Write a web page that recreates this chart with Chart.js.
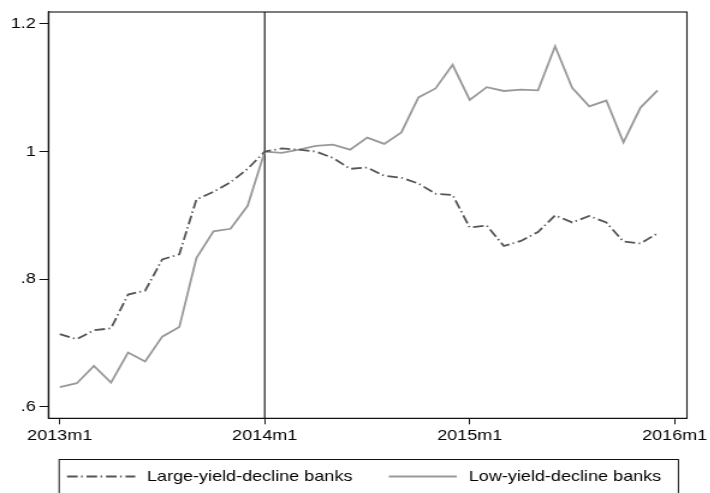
<!DOCTYPE html>
<html>
<head>
<meta charset="utf-8">
<script src="https://cdn.jsdelivr.net/npm/chart.js@4/dist/chart.umd.min.js"></script>
<style>
  html, body { margin: 0; padding: 0; background: #fff; overflow: hidden; }
  #wrap { position: absolute; left: 0; top: 0; width: 591.67px; height: 493px;
          transform: scaleX(1.2); transform-origin: 0 0; }
</style>
</head>
<body>
<div id="wrap"><canvas id="c"></canvas></div>
<script>
// ---- data (monthly, 2013m1 .. 2015m12), index 2014m1 = 1 ----
const months = [
  '2013m1','2013m2','2013m3','2013m4','2013m5','2013m6','2013m7','2013m8','2013m9','2013m10','2013m11','2013m12',
  '2014m1','2014m2','2014m3','2014m4','2014m5','2014m6','2014m7','2014m8','2014m9','2014m10','2014m11','2014m12',
  '2015m1','2015m2','2015m3','2015m4','2015m5','2015m6','2015m7','2015m8','2015m9','2015m10','2015m11','2015m12'
];
const largeYieldDecline = [
  0.714, 0.706, 0.720, 0.723, 0.776, 0.782, 0.831, 0.839, 0.925, 0.937, 0.952, 0.973,
  1.000, 1.005, 1.003, 1.000, 0.990, 0.973, 0.975, 0.962, 0.959, 0.950, 0.934, 0.932,
  0.881, 0.884, 0.852, 0.860, 0.874, 0.900, 0.889, 0.899, 0.889, 0.859, 0.856, 0.872
];
const lowYieldDecline = [
  0.631, 0.637, 0.664, 0.638, 0.685, 0.671, 0.710, 0.725, 0.833, 0.875, 0.879, 0.915,
  1.000, 0.998, 1.003, 1.009, 1.011, 1.003, 1.022, 1.012, 1.030, 1.085, 1.099, 1.136,
  1.081, 1.101, 1.095, 1.097, 1.096, 1.165, 1.100, 1.071, 1.080, 1.0145, 1.069, 1.096
];
const seriesNames = ['Large-yield-decline banks', 'Low-yield-decline banks'];
const xTickMonths = [0, 12, 24, 36];
const xTickLabels = ['2013m1', '2014m1', '2015m1', '2016m1'];
const yTickValues = [0.6, 0.8, 1.0, 1.2];
const yTickLabels = ['.6', '.8', '1', '1.2'];
const eventMonth = 12; // 2014m1

const FONT = { family: '"Liberation Sans", Arial, sans-serif', size: 15 };

const frameAndLegend = {
  id: 'frameAndLegend',
  beforeDatasetsDraw(chart) {
    const { ctx, chartArea: a, scales } = chart;
    // vertical line at 2014m1
    const xv = scales.x.getPixelForValue(eventMonth);
    ctx.save();
    ctx.strokeStyle = '#000';
    ctx.lineWidth = 1.1;
    ctx.beginPath();
    ctx.moveTo(xv, a.top);
    ctx.lineTo(xv, a.bottom);
    ctx.stroke();
    ctx.restore();
  },
  afterDraw(chart) {
    const { ctx, chartArea: a } = chart;
    ctx.save();
    // plot region outline
    ctx.strokeStyle = '#111';
    ctx.lineWidth = 1.1;
    ctx.strokeRect(a.left, a.top, a.right - a.left, a.bottom - a.top);
    // legend box
    ctx.strokeStyle = '#111';
    ctx.lineWidth = 1;
    ctx.strokeRect(49.2, 459.5, 515.2, 60);
    const ly = 476.5;
    const items = [
      { x0: 55.8, x1: 112.5, tx: 122.2 },
      { x0: 323.5, x1: 380.0, tx: 390.0 }
    ];
    chart.data.datasets.forEach((ds, i) => {
      const it = items[i];
      ctx.strokeStyle = ds.borderColor;
      ctx.lineWidth = ds.borderWidth;
      ctx.setLineDash(ds.borderDash || []);
      ctx.beginPath();
      ctx.moveTo(it.x0, ly);
      ctx.lineTo(it.x1, ly);
      ctx.stroke();
      ctx.setLineDash([]);
      ctx.fillStyle = '#000';
      ctx.font = `${FONT.size}px ${FONT.family}`;
      ctx.textBaseline = 'middle';
      ctx.textAlign = 'left';
      ctx.fillText(ds.label, it.tx, ly + 0.5);
    });
    ctx.restore();
  }
};

new Chart(document.getElementById('c'), {
  type: 'line',
  data: {
    datasets: [
      {
        label: seriesNames[0],
        data: largeYieldDecline.map((v, i) => ({ x: i, y: v })),
        borderColor: '#555555',
        borderWidth: 1.8,
        borderDash: [8.8, 2.9, 1.3, 3.2],
        pointRadius: 0,
        fill: false,
        tension: 0
      },
      {
        label: seriesNames[1],
        data: lowYieldDecline.map((v, i) => ({ x: i, y: v })),
        borderColor: '#999999',
        borderWidth: 1.8,
        pointRadius: 0,
        fill: false,
        tension: 0
      }
    ]
  },
  options: {
    responsive: true,
    maintainAspectRatio: false,
    animation: false,
    events: [],
    layout: { padding: { top: 8.5, right: 17.8, bottom: 0, left: 0 } },
    plugins: { legend: { display: false }, tooltip: { enabled: false }, title: { display: false } },
    scales: {
      x: {
        type: 'linear',
        min: -0.665,
        max: 36.72,
        afterBuildTicks(s) { s.ticks = xTickMonths.map(v => ({ value: v })); },
        afterFit(s) { s.height = 74.7; },
        border: { display: true, color: '#111', width: 1.1 },
        grid: { drawOnChartArea: false, drawTicks: true, tickLength: 6, color: '#111', tickColor: '#111', lineWidth: 1 },
        ticks: {
          autoSkip: false, maxRotation: 0, minRotation: 0, padding: 3,
          color: '#000', font: FONT,
          callback(v) { const k = xTickMonths.indexOf(v); return k >= 0 ? xTickLabels[k] : ''; }
        }
      },
      y: {
        type: 'linear',
        min: 0.582,
        max: 1.2188,
        afterBuildTicks(s) { s.ticks = yTickValues.map(v => ({ value: v })); },
        afterFit(s) { s.width = 40.25; },
        border: { display: true, color: '#111', width: 1.1 },
        grid: { drawOnChartArea: false, drawTicks: true, tickLength: 7.5, color: '#111', tickColor: '#111', lineWidth: 1 },
        ticks: {
          autoSkip: false, padding: 3,
          color: '#000', font: FONT,
          callback(v) {
            const k = yTickValues.findIndex(t => Math.abs(t - v) < 1e-9);
            return k >= 0 ? yTickLabels[k] : '';
          }
        }
      }
    }
  },
  plugins: [frameAndLegend]
});
</script>
</body>
</html>
